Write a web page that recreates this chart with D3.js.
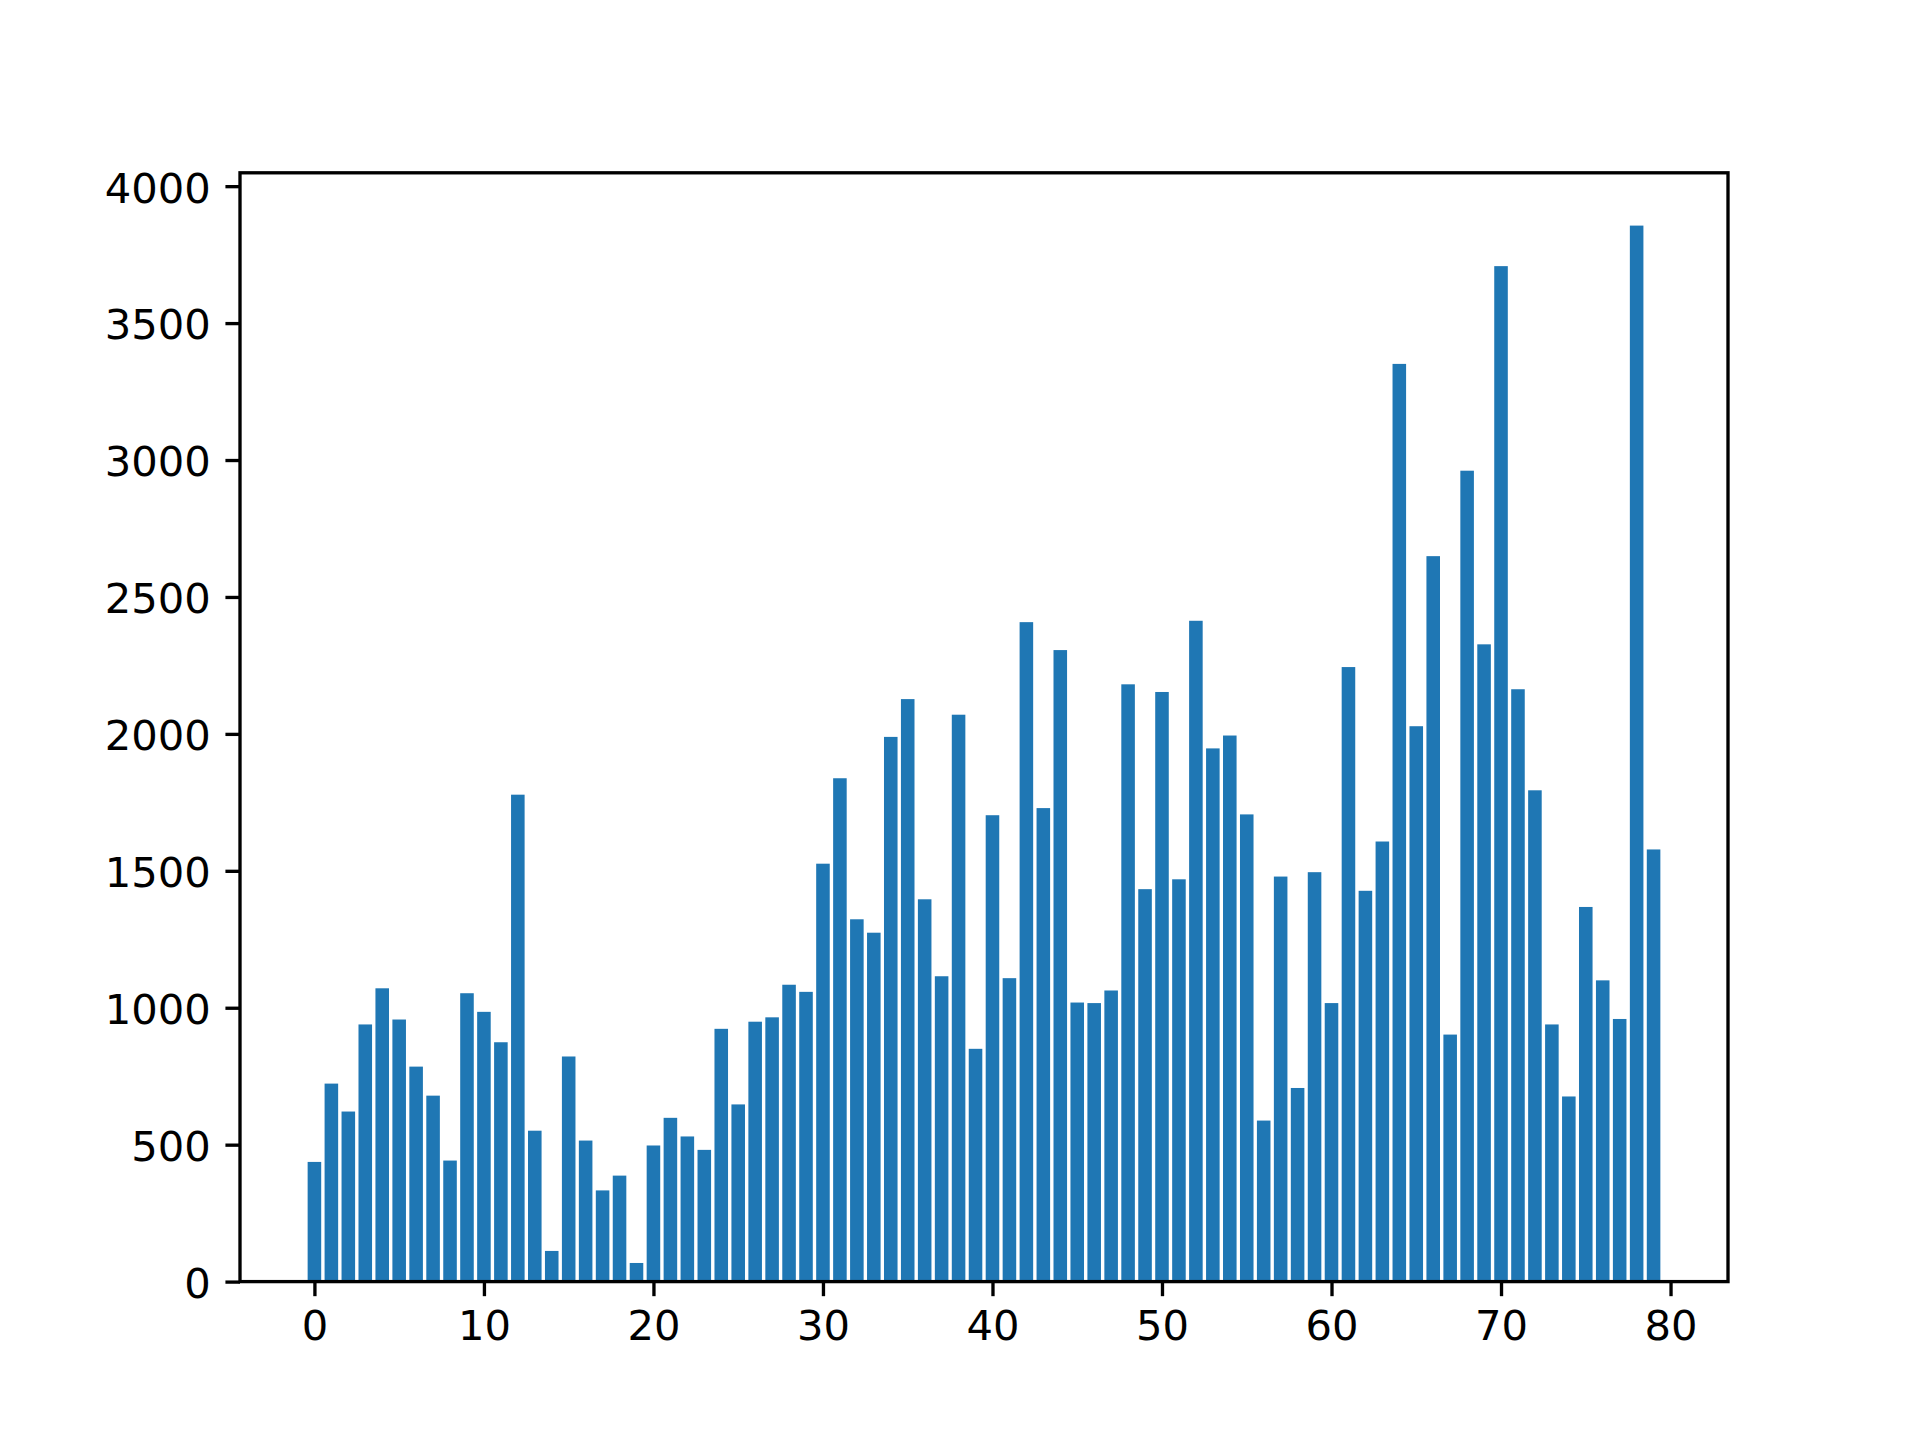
<!DOCTYPE html>
<html>
<head>
<meta charset="utf-8">
<script src="https://cdn.jsdelivr.net/npm/d3@7"></script>
<style>
    body { margin: 0; background: #fff; }
    .chart svg { display: block; }
</style>
</head>
<body>
<div class="chart"></div>
<script>
// bar values, index 0..79
const values = [
    437, 723, 621, 939, 1071, 957, 785, 679, 442, 1053,
    985, 874, 1778, 551, 112, 822, 515, 333, 387, 68,
    497, 598, 530, 481, 923, 647, 949, 965, 1084, 1058,
    1526, 1838, 1323, 1274, 1989, 2127, 1396, 1115, 2070, 850,
    1703, 1108, 2408, 1729, 2306, 1019, 1017, 1063, 2181, 1433,
    2153, 1469, 2413, 1947, 1994, 1706, 588, 1479, 707, 1495,
    1017, 2244, 1427, 1607, 3351, 2028, 2649, 902, 2961, 2327,
    3708, 2163, 1794, 939, 676, 1368, 1100, 959, 3856, 1578
]
const categories = values.map((v, i) => i)
const xTicks = [0, 10, 20, 30, 40, 50, 60, 70, 80]
const yTicks = [0, 500, 1000, 1500, 2000, 2500, 3000, 3500, 4000]

class BarChart {

    constructor(options) {
        this.fullWidth = options.width || 1920
        this.fullHeight = options.height || 1440
        this.margin = options.margin || { top: 172.8, right: 192, bottom: 158.4, left: 240 }
        this.width = this.fullWidth - this.margin.left - this.margin.right
        this.height = this.fullHeight - this.margin.top - this.margin.bottom
        this.fontSize = options.fontSize || '41.67px'
        this.axisColour = options.axisColour || '#000'
        this.barColour = options.barColour || '#1f77b4'
        this.barWidth = 0.8
        this.lw = 3.33      // 0.8pt at 300dpi
        this.tick = 14.58   // 3.5pt at 300dpi
    }

    render() {
        this.canvas = this.createCanvas()
        this.prepareAxes()
        this.createBars()
        this.createAxes()
        this.createFrame()
    }

    createCanvas() {
        let svg = d3.select('.chart')
            .append('svg')
            .attr('width', this.fullWidth)
            .attr('height', this.fullHeight)
        svg.append('rect')
            .attr('width', this.fullWidth)
            .attr('height', this.fullHeight)
            .style('fill', '#fff')
        return svg.append('g')
            .attr('transform', `translate(${this.margin.left}, ${this.margin.top})`)
    }

    prepareAxes() {
        // matplotlib default 5% margins around the bar extent
        let lo = d3.min(categories) - this.barWidth / 2,
            hi = d3.max(categories) + this.barWidth / 2,
            pad = (hi - lo) * 0.05
        this.xScale = d3.scaleLinear()
            .domain([lo - pad, hi + pad])
            .range([0, this.width])
        this.yScale = d3.scaleLinear()
            .domain([0, d3.max(values) * 1.05])
            .range([this.height, 0])
    }

    createBars() {
        let x = this.xScale, y = this.yScale, w = this.barWidth
        this.canvas.append('g')
            .selectAll('rect')
            .data(values)
            .enter().append('rect')
            .attr('x', (d, i) => x(categories[i] - w / 2))
            .attr('y', d => y(d))
            .attr('width', x(w) - x(0))
            .attr('height', d => y(0) - y(d))
            .style('fill', this.barColour)
    }

    createAxes() {
        let xAxis = d3.axisBottom(this.xScale)
            .tickValues(xTicks)
            .tickFormat(d3.format('d'))
            .tickSize(this.tick)
            .tickPadding(this.tick)
        let yAxis = d3.axisLeft(this.yScale)
            .tickValues(yTicks)
            .tickFormat(d3.format('d'))
            .tickSize(this.tick)
            .tickPadding(this.tick)

        let gX = this.canvas.append('g')
            .attr('transform', `translate(0, ${this.height})`)
            .call(xAxis)
        let gY = this.canvas.append('g')
            .call(yAxis)
        gY.selectAll('.tick text').attr('dy', '0.38em')

        for (let g of [gX, gY]) {
            g.select('.domain').remove()
            g.selectAll('.tick line')
                .style('stroke', this.axisColour)
                .style('stroke-width', this.lw)
            g.selectAll('.tick text')
                .style('fill', this.axisColour)
                .style('font-family', '"DejaVu Sans", sans-serif')
                .style('font-size', this.fontSize)
        }
    }

    createFrame() {
        this.canvas.append('rect')
            .attr('width', this.width)
            .attr('height', this.height)
            .style('fill', 'none')
            .style('stroke', this.axisColour)
            .style('stroke-width', this.lw)
            .style('stroke-linejoin', 'miter')
            .style('stroke-linecap', 'square')
    }
}

new BarChart({}).render()
</script>
</body>
</html>
